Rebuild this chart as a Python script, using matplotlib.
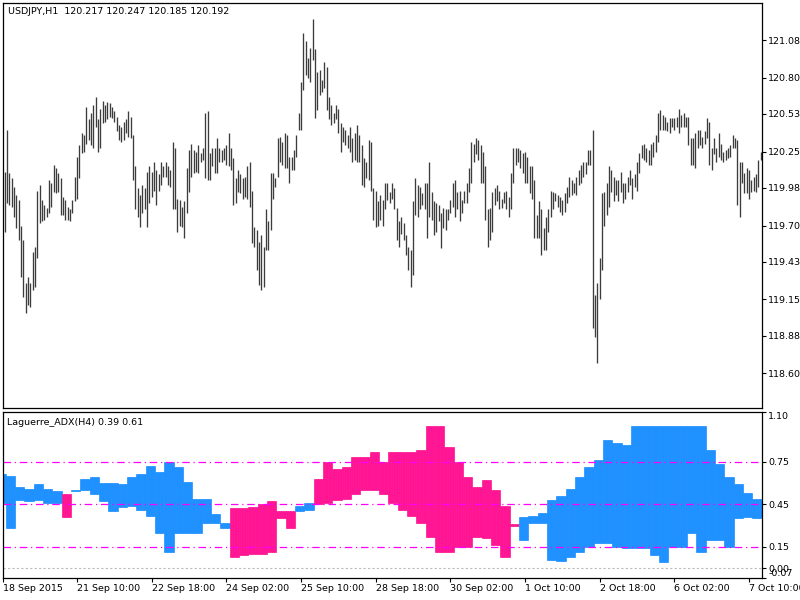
import matplotlib
matplotlib.use('Agg')
import matplotlib.pyplot as plt
import numpy as np
import pandas as pd

# H1 bars, 18 Sep 2015 03:00 .. 7 Oct 2015 15:00 (weekend hours are not traded)
hours = pd.date_range('2015-09-18 03:00', '2015-10-07 15:00', freq='h')
hours = hours[hours.weekday < 5]

highs = [
    120.10, 120.41, 120.09, 120.05, 119.99, 119.93, 119.89, 119.70, 119.59, 119.27,
    119.32, 119.27, 119.50, 119.54, 119.96, 120.00, 119.89, 119.85, 119.83, 120.04,
    120.02, 120.15, 120.13, 120.09, 120.05, 119.91, 119.89, 119.84, 119.82, 119.89,
    120.06, 120.21, 120.30, 120.39, 120.37, 120.58, 120.49, 120.54, 120.60, 120.66,
    120.49, 120.57, 120.63, 120.60, 120.62, 120.61, 120.58, 120.55, 120.51, 120.45,
    120.43, 120.47, 120.49, 120.55, 120.51, 120.37, 120.14, 119.98, 119.93, 120.00,
    119.98, 120.10, 120.14, 120.10, 120.17, 120.11, 120.08, 120.17, 120.14, 120.17,
    120.14, 120.11, 120.32, 120.28, 119.90, 119.89, 119.84, 119.88, 120.13, 120.26,
    120.31, 120.26, 120.25, 120.30, 120.24, 120.28, 120.54, 120.55, 120.24, 120.28,
    120.28, 120.35, 120.28, 120.26, 120.28, 120.30, 120.39, 120.28, 120.20, 120.05,
    120.11, 120.08, 120.05, 120.06, 120.14, 120.17, 119.96, 119.69, 119.67, 119.58,
    119.63, 119.54, 119.82, 119.73, 120.09, 120.09, 120.05, 120.35, 120.36, 120.32,
    120.39, 120.37, 120.21, 120.21, 120.26, 120.37, 120.54, 120.77, 121.13, 121.07,
    120.95, 121.02, 121.24, 121.01, 120.84, 120.86, 120.78, 120.92, 120.88, 120.66,
    120.60, 120.54, 120.60, 120.57, 120.46, 120.43, 120.41, 120.37, 120.43, 120.35,
    120.39, 120.45, 120.37, 120.30, 120.20, 120.17, 120.34, 120.32, 119.98, 119.96,
    119.88, 119.93, 119.89, 120.02, 120.02, 119.95, 120.02, 119.98, 119.83, 119.73,
    119.76, 119.72, 119.63, 119.54, 119.52, 119.88, 120.05, 120.00, 119.99, 119.94,
    120.02, 120.02, 120.17, 119.95, 119.88, 119.87, 119.85, 119.79, 119.83, 119.82,
    119.82, 119.89, 120.02, 120.04, 119.95, 119.96, 119.89, 119.96, 120.02, 120.13,
    120.32, 120.31, 120.35, 120.34, 120.30, 120.25, 120.14, 119.82, 119.83, 119.95,
    119.98, 120.00, 119.96, 119.90, 119.95, 119.96, 119.91, 120.09, 120.28, 120.28,
    120.28, 120.26, 120.24, 120.25, 120.21, 120.14, 120.14, 120.04, 119.78, 119.88,
    119.82, 119.68, 119.76, 119.82, 119.96, 119.95, 119.94, 119.93, 119.91, 119.89,
    119.94, 119.99, 120.06, 120.04, 120.02, 120.06, 120.11, 120.15, 120.17, 120.17,
    120.26, 120.26, 120.41, 119.18, 119.27, 119.46, 119.94, 119.95, 120.02, 120.14,
    120.11, 120.06, 120.04, 120.04, 120.10, 120.02, 120.02, 120.06, 120.11, 120.05,
    120.08, 120.17, 120.24, 120.30, 120.31, 120.28, 120.26, 120.31, 120.32, 120.37,
    120.54, 120.56, 120.52, 120.51, 120.47, 120.50, 120.50, 120.50, 120.51, 120.57,
    120.52, 120.54, 120.51, 120.51, 120.35, 120.35, 120.39, 120.41, 120.41, 120.36,
    120.40, 120.50, 120.47, 120.28, 120.35, 120.28, 120.39, 120.31, 120.25, 120.26,
    120.28, 120.30, 120.37, 120.35, 120.34, 120.17, 120.17, 120.09, 120.13, 120.11,
    120.04, 120.06, 120.08, 120.19, 120.247,
]

lows = [
    119.65, 119.87, 119.85, 119.84, 119.76, 119.68, 119.59, 119.32, 119.17, 119.05,
    119.11, 119.09, 119.22, 119.24, 119.46, 119.72, 119.73, 119.74, 119.76, 119.79,
    119.84, 119.95, 119.94, 119.95, 119.78, 119.78, 119.74, 119.74, 119.73, 119.79,
    119.88, 119.90, 120.05, 120.24, 120.25, 120.31, 120.34, 120.30, 120.28, 120.43,
    120.25, 120.28, 120.46, 120.47, 120.49, 120.51, 120.50, 120.47, 120.40, 120.34,
    120.32, 120.34, 120.39, 120.36, 120.35, 120.04, 119.82, 119.76, 119.69, 119.79,
    119.82, 119.69, 119.87, 119.91, 119.96, 119.85, 119.96, 120.00, 120.06, 120.06,
    120.00, 119.99, 119.82, 119.82, 119.65, 119.70, 119.69, 119.61, 119.79, 119.95,
    120.06, 120.09, 120.10, 120.09, 120.17, 120.19, 120.05, 120.04, 120.04, 120.14,
    120.09, 120.09, 120.17, 120.17, 120.19, 120.15, 120.14, 120.11, 119.85, 119.87,
    119.95, 119.94, 119.90, 119.91, 119.90, 119.84, 119.57, 119.54, 119.37, 119.26,
    119.22, 119.24, 119.52, 119.52, 119.67, 119.90, 119.99, 120.06, 120.17, 120.15,
    120.13, 120.13, 120.02, 120.11, 120.11, 120.21, 120.41, 120.41, 120.71, 120.82,
    120.80, 120.77, 120.93, 120.50, 120.56, 120.67, 120.69, 120.72, 120.56, 120.49,
    120.45, 120.46, 120.49, 120.39, 120.25, 120.32, 120.30, 120.28, 120.25, 120.17,
    120.19, 120.17, 120.17, 120.00, 119.99, 120.05, 120.04, 119.96, 119.74, 119.69,
    119.70, 119.74, 119.70, 119.82, 119.89, 119.87, 119.90, 119.82, 119.59, 119.54,
    119.64, 119.59, 119.48, 119.37, 119.24, 119.33, 119.78, 119.76, 119.82, 119.85,
    119.82, 119.61, 119.76, 119.74, 119.63, 119.65, 119.73, 119.53, 119.68, 119.67,
    119.74, 119.79, 119.84, 119.76, 119.82, 119.73, 119.79, 119.87, 119.87, 119.95,
    120.02, 120.17, 120.23, 120.19, 120.02, 120.02, 119.74, 119.54, 119.59, 119.65,
    119.85, 119.88, 119.82, 119.83, 119.87, 119.82, 119.76, 119.82, 120.02, 120.15,
    120.17, 120.13, 120.09, 120.02, 120.02, 119.94, 119.90, 119.61, 119.61, 119.61,
    119.48, 119.52, 119.52, 119.65, 119.76, 119.82, 119.88, 119.84, 119.80, 119.78,
    119.80, 119.87, 119.91, 119.93, 119.94, 119.93, 120.00, 120.02, 120.06, 120.08,
    120.15, 120.15, 118.94, 118.87, 118.68, 119.15, 119.37, 119.70, 119.78, 119.84,
    119.95, 119.88, 119.93, 119.88, 119.95, 119.87, 119.90, 119.95, 120.00, 119.90,
    119.99, 119.96, 120.09, 120.20, 120.19, 120.17, 120.15, 120.15, 120.21, 120.25,
    120.32, 120.41, 120.41, 120.41, 120.40, 120.39, 120.43, 120.41, 120.43, 120.39,
    120.43, 120.43, 120.43, 120.30, 120.15, 120.15, 120.13, 120.28, 120.30, 120.28,
    120.31, 120.35, 120.15, 120.11, 120.23, 120.17, 120.21, 120.19, 120.17, 120.19,
    120.20, 120.21, 120.28, 120.28, 119.85, 119.76, 120.02, 119.94, 119.94, 119.90,
    119.95, 119.96, 119.95, 119.99, 120.185,
]

# Laguerre ADX lines, one value per H4 bar
adx_plus = [
    0.66, 0.65, 0.57, 0.56, 0.59, 0.56, 0.54, 0.36, 0.55, 0.63,
    0.64, 0.60, 0.60, 0.59, 0.64, 0.66, 0.72, 0.68, 0.75, 0.71,
    0.61, 0.49, 0.49, 0.38, 0.32, 0.08, 0.09, 0.10, 0.10, 0.11,
    0.35, 0.28, 0.44, 0.46, 0.45, 0.46, 0.48, 0.49, 0.52, 0.55,
    0.55, 0.52, 0.46, 0.41, 0.37, 0.32, 0.22, 0.11, 0.11, 0.15,
    0.15, 0.22, 0.21, 0.16, 0.08, 0.30, 0.36, 0.37, 0.39, 0.48,
    0.51, 0.56, 0.64, 0.71, 0.76, 0.90, 0.88, 0.87, 1.00, 1.00,
    1.00, 1.00, 1.00, 1.00, 1.00, 1.00, 0.83, 0.73, 0.64, 0.59,
    0.53, 0.49,
]
adx_minus = [
    0.46, 0.28, 0.48, 0.47, 0.48, 0.46, 0.46, 0.52, 0.54, 0.55,
    0.52, 0.47, 0.40, 0.43, 0.44, 0.41, 0.37, 0.25, 0.11, 0.25,
    0.25, 0.25, 0.32, 0.32, 0.28, 0.42, 0.42, 0.43, 0.45, 0.47,
    0.40, 0.40, 0.40, 0.41, 0.63, 0.75, 0.70, 0.71, 0.78, 0.78,
    0.82, 0.75, 0.82, 0.82, 0.82, 0.83, 1.00, 1.00, 0.85, 0.75,
    0.64, 0.57, 0.62, 0.55, 0.44, 0.31, 0.20, 0.32, 0.32, 0.06,
    0.05, 0.08, 0.11, 0.15, 0.18, 0.18, 0.15, 0.14, 0.14, 0.14,
    0.09, 0.04, 0.15, 0.15, 0.25, 0.11, 0.20, 0.20, 0.15, 0.35,
    0.36, 0.35,
]

levels = [0.75, 0.45, 0.15]
price_ticks = [121.08, 120.80, 120.53, 120.25, 119.98, 119.70, 119.43, 119.15, 118.88, 118.60]
adx_ticks = [1.10, 0.75, 0.45, 0.15, 0.00, -0.07]
date_labels = ['18 Sep 2015', '21 Sep 10:00', '22 Sep 18:00', '24 Sep 02:00', '25 Sep 10:00',
               '28 Sep 18:00', '30 Sep 02:00', '1 Oct 10:00', '2 Oct 18:00', '6 Oct 02:00', '7 Oct 10:00']
date_stamps = ['2015-09-21 10:00', '2015-09-22 18:00', '2015-09-24 02:00', '2015-09-25 10:00',
               '2015-09-28 18:00', '2015-09-30 02:00', '2015-10-01 10:00', '2015-10-02 18:00',
               '2015-10-06 02:00', '2015-10-07 10:00']

header = 'USDJPY,H1  120.217 120.247 120.185 120.192'
sub_header = 'Laguerre_ADX(H4) 0.39 0.61'

plt.rcParams['font.family'] = ['DejaVu Sans']
fs = 6.8

x = np.arange(len(hours))
x_left, x_right = -0.71, 324.6

fig = plt.figure(figsize=(8, 6), dpi=100, facecolor='white')
ax1 = fig.add_axes([0.00375, 0.32, 0.94875, 0.675])
ax2 = fig.add_axes([0.00375, 0.03667, 0.94875, 0.27667])

# price bars (high-low)
ax1.vlines(x, lows, highs, color='#3c3c3c', lw=0.95)
ax1.set_xlim(x_left, x_right)
ax1.set_ylim(118.342, 121.356)
ax1.yaxis.tick_right()
ax1.set_yticks(price_ticks)
ax1.set_yticklabels([f'{t:.2f}' for t in price_ticks])
ax1.tick_params(axis='y', direction='out', length=3, pad=1.5, labelsize=fs, width=0.8)
ax1.set_xticks([])
ax1.text(0.0066, 0.99, header, transform=ax1.transAxes, va='top', ha='left', fontsize=fs)

# indicator: H4 values spread over the H1 bars they cover
h4 = pd.factorize(hours.floor('4h'))[0]
plus_h1 = np.array(adx_plus)[h4]
minus_h1 = np.array(adx_minus)[h4]
colors = np.where(plus_h1 >= minus_h1, '#1E90FF', '#FF1493')
ax2.bar(x, np.abs(plus_h1 - minus_h1), bottom=np.minimum(plus_h1, minus_h1), width=1.0,
        color=colors, edgecolor=colors, linewidth=0.5)
for lv in levels:
    ax2.axhline(lv, color='#FF00FF', lw=0.9, ls=(0, (6, 3, 1, 3)))
ax2.axhline(0.0, color='#BBBBBB', lw=0.8, ls=(0, (2, 2)))
ax2.set_xlim(x_left, x_right)
ax2.set_ylim(-0.07, 1.10)
ax2.yaxis.tick_right()
ax2.set_yticks(adx_ticks)
ax2.set_yticklabels([f'{t:.2f}' for t in adx_ticks])
ax2.tick_params(axis='y', direction='out', length=3, pad=1.5, labelsize=fs, width=0.8)
ylabels = ax2.get_yticklabels()
ylabels[0].set_va('top')
ylabels[-1].set_va('bottom')
ax2.text(0.0053, 0.965, sub_header, transform=ax2.transAxes, va='top', ha='left', fontsize=fs)

tick_pos = [x_left] + [hours.get_loc(pd.Timestamp(s)) for s in date_stamps]
ax2.set_xticks(tick_pos)
ax2.set_xticklabels(date_labels)
ax2.tick_params(axis='x', direction='out', length=3, pad=1, labelsize=fs, width=0.8)
for lbl in ax2.get_xticklabels():
    lbl.set_ha('left')

for ax in (ax1, ax2):
    for sp in ax.spines.values():
        sp.set_color('black')
        sp.set_linewidth(0.9)

fig.savefig('out.png', dpi=100, facecolor='white')
